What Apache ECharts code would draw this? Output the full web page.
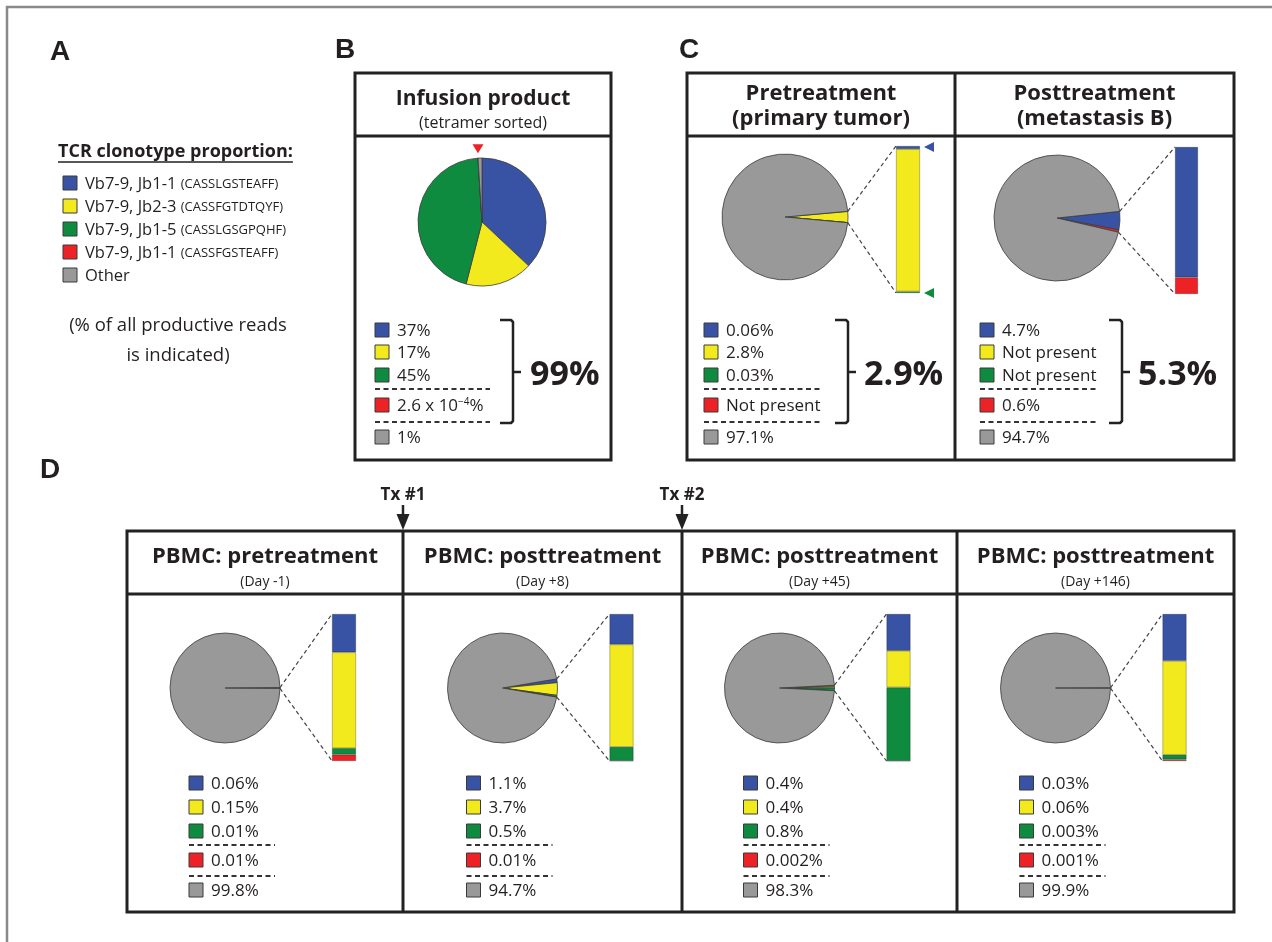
<!DOCTYPE html>
<html><head><meta charset="utf-8">
<script src="https://cdn.jsdelivr.net/npm/echarts@6/dist/echarts.min.js"></script>
<style>html,body{margin:0;padding:0;background:#fff}#c{width:1272px;height:942px}</style>
</head><body><div id="c"></div>
<script>
// ---------------- DATA ----------------
const clonotypeNames = ['Vb7-9, Jb1-1', 'Vb7-9, Jb2-3', 'Vb7-9, Jb1-5', 'Vb7-9, Jb1-1', 'Other'];
const clonotypeCdr3 = ['(CASSLGSTEAFF)', '(CASSFGTDTQYF)', '(CASSLGSGPQHF)', '(CASSFGSTEAFF)', ''];
const legendTitle = 'TCR clonotype proportion:';
const legendNote = ['(% of all productive reads', 'is indicated)'];
const panelLetters = ['A', 'B', 'C', 'D'];

const infusionTitle = ['Infusion product', '(tetramer sorted)'];
const infusionValues = [37, 17, 45, 0.00026, 1];
const infusionLabels = ['37%', '17%', '45%', '2.6 x 10{sup|−4}%', '1%'];
const infusionTotal = '99%';

const tumorTitles = [['Pretreatment', '(primary tumor)'], ['Posttreatment', '(metastasis B)']];
const tumorPreValues = [0.06, 2.8, 0.03, 0, 97.1];
const tumorPreLabels = ['0.06%', '2.8%', '0.03%', 'Not present', '97.1%'];
const tumorPostValues = [4.7, 0, 0, 0.6, 94.7];
const tumorPostLabels = ['4.7%', 'Not present', 'Not present', '0.6%', '94.7%'];
const tumorTotals = ['2.9%', '5.3%'];

const pbmcTitles = ['PBMC: pretreatment', 'PBMC: posttreatment', 'PBMC: posttreatment', 'PBMC: posttreatment'];
const pbmcDays = ['(Day -1)', '(Day +8)', '(Day +45)', '(Day +146)'];
const pbmcDayM1Values = [0.06, 0.15, 0.01, 0.01, 99.8];
const pbmcDay8Values = [1.1, 3.7, 0.5, 0.01, 94.7];
const pbmcDay45Values = [0.4, 0.4, 0.8, 0.002, 98.3];
const pbmcDay146Values = [0.03, 0.06, 0.003, 0.001, 99.9];
const pbmcDayM1Labels = ['0.06%', '0.15%', '0.01%', '0.01%', '99.8%'];
const pbmcDay8Labels = ['1.1%', '3.7%', '0.5%', '0.01%', '94.7%'];
const pbmcDay45Labels = ['0.4%', '0.4%', '0.8%', '0.002%', '98.3%'];
const pbmcDay146Labels = ['0.03%', '0.06%', '0.003%', '0.001%', '99.9%'];
const txLabels = ['Tx #1', 'Tx #2'];

// ---------------- STYLE / LAYOUT ----------------
const colors = ['#3953a4', '#f2ea1c', '#0f8b3f', '#ec2227', '#999999'];
const FONT = '"Open Sans", "DejaVu Sans", sans-serif';
const INK = '#231f20';
const BOX = '#222222';

const els = [];
const series = [];
const grids = [], xAxes = [], yAxes = [];

function txt(x, y, s, font, align, vAlign, rich) {
  const st = { text: s, x: x, y: y, font: font, fill: INK,
    align: align || 'left', verticalAlign: vAlign || 'middle',
    textAlign: align || 'left', textVerticalAlign: vAlign || 'middle' };
  if (rich) st.rich = rich;
  els.push({ type: 'text', silent: true, z: 10, style: st });
}
function line(x1, y1, x2, y2, stroke, lw, dash) {
  const st = { stroke: stroke, lineWidth: lw, lineCap: 'butt' };
  if (dash) st.lineDash = dash;
  els.push({ type: 'line', silent: true, z: 10, shape: { x1: x1, y1: y1, x2: x2, y2: y2 }, style: st });
}
function rect(x, y, w, h, fill, stroke, lw) {
  els.push({ type: 'rect', silent: true, z: 10, shape: { x: x, y: y, width: w, height: h },
    style: { fill: fill, stroke: stroke, lineWidth: lw } });
}
function poly(points, fill) {
  els.push({ type: 'polygon', silent: true, z: 11, shape: { points: points }, style: { fill: fill } });
}
function polyline(points, stroke, lw) {
  els.push({ type: 'polyline', silent: true, z: 10, shape: { points: points },
    style: { stroke: stroke, lineWidth: lw, fill: null, lineJoin: 'round' } });
}
const measureCtx = document.createElement('canvas').getContext('2d');
function textWidth(s, font) { measureCtx.font = font; return measureCtx.measureText(s).width; }

function sum(a) { return a.reduce((p, v) => p + v, 0); }

function addPie(values, cx, cy, r, startAngle) {
  series.push({
    type: 'pie', center: [cx, cy], radius: r, startAngle: startAngle, clockwise: true,
    silent: true, animation: false, label: { show: false }, labelLine: { show: false },
    itemStyle: { borderColor: '#3c3c3c', borderWidth: 0.8 },
    data: values.map((v, i) => ({ value: v, name: clonotypeNames[i] + ' ' + clonotypeCdr3[i], itemStyle: { color: colors[i] } }))
      .filter(d => d.value > 0)
  });
}

function addMiniBar(values, left, top, width, height) {
  const gi = grids.length;
  grids.push({ left: left, top: top, width: width, height: height, containLabel: false });
  xAxes.push({ type: 'category', gridIndex: gi, data: ['c'], show: false, boundaryGap: true });
  yAxes.push({ type: 'value', gridIndex: gi, min: 0, max: sum(values.slice(0, 4)), show: false });
  // stack bottom -> top : red, green, yellow, blue
  [3, 2, 1, 0].forEach(i => {
    series.push({
      type: 'bar', xAxisIndex: gi, yAxisIndex: gi, stack: 'bar' + gi, barWidth: '100%',
      silent: true, animation: false,
      itemStyle: { color: colors[i], borderColor: 'rgba(0,0,0,0.45)', borderWidth: 0.6 },
      data: [values[i] > 0 ? values[i] : '-']
    });
  });
}

// slice-edge points of the clonotype wedge (centred at 3 o'clock + tilt)
function wedgeEdges(values, cx, cy, r, tilt) {
  const half = sum(values.slice(0, 4)) / sum(values) * 180;
  const a1 = (half + tilt) * Math.PI / 180, a2 = (-half + tilt) * Math.PI / 180;
  return [[cx + r * Math.cos(a1), cy - r * Math.sin(a1)], [cx + r * Math.cos(a2), cy - r * Math.sin(a2)]];
}

function legendBlock(x, rows, dashYs, dashLen, labels, fs) {
  const font = fs + 'px ' + FONT;
  rows.forEach((y, i) => {
    rect(x, y - 7, 14, 14, colors[i], '#3a3a3a', 1);
    txt(x + 22, y + 1, labels[i], font, 'left', 'middle',
      { sup: { font: '10px ' + FONT, fill: INK, verticalAlign: 'top', lineHeight: 10 } });
  });
  dashYs.forEach(y => line(x, y, x + dashLen, y, '#333', 2, [5, 3.5]));
}

function bracket(x0, x1, top, bot, mid) {
  polyline([[x0, top], [x1 - 2, top], [x1, top + 2], [x1, bot - 2], [x1 - 2, bot], [x0, bot]], BOX, 2.5);
  line(x1, mid, x1 + 8, mid, BOX, 2.5);
}

// ---------------- FRAME + LETTERS ----------------
rect(7, 7, 1300, 1000, null, '#8a8a8a', 2.5);
const letterFont = 'bold 28px "Liberation Sans", Arial, sans-serif';
txt(50, 52, panelLetters[0], letterFont, 'left', 'middle');
txt(335, 50, panelLetters[1], letterFont, 'left', 'middle');
txt(679, 50, panelLetters[2], letterFont, 'left', 'middle');
txt(40, 470, panelLetters[3], letterFont, 'left', 'middle');

// ---------------- PANEL A (legend) ----------------
const titleFont = 'bold 18px ' + FONT;
txt(58, 152, legendTitle, titleFont, 'left', 'middle');
line(58, 162, 58 + textWidth(legendTitle, titleFont), 162, INK, 1.3);
const aRows = [183, 206, 229, 252, 275];
aRows.forEach((y, i) => {
  rect(63, y - 7, 14, 14, colors[i], '#3a3a3a', 1);
  txt(85, y + 1, '{a|' + clonotypeNames[i] + '}' + (clonotypeCdr3[i] ? ' {b|' + clonotypeCdr3[i] + '}' : ''),
    '16.5px ' + FONT, 'left', 'middle',
    { a: { font: '16.5px ' + FONT, fill: INK }, b: { font: '13px ' + FONT, fill: INK } });
});
txt(178, 326, legendNote[0], '18.5px ' + FONT, 'center', 'middle');
txt(178, 356, legendNote[1], '18.5px ' + FONT, 'center', 'middle');

// ---------------- PANEL B ----------------
const bX0 = 355, bX1 = 611, bTop = 73, bBot = 460, bHead = 136;
rect(bX0, bTop, bX1 - bX0, bBot - bTop, null, BOX, 3);
line(bX0, bHead, bX1, bHead, BOX, 3);
txt((bX0 + bX1) / 2, 99, infusionTitle[0], 'bold 21px ' + FONT, 'center', 'middle');
txt((bX0 + bX1) / 2, 123, infusionTitle[1], '16px ' + FONT, 'center', 'middle');
const bPie = { cx: 482, cy: 222, r: 64 };
addPie(infusionValues, bPie.cx, bPie.cy, bPie.r, 90);
{
  // red marker pointing at the (tiny) 4th clonotype slice
  const frac = sum(infusionValues.slice(0, 3)) / sum(infusionValues);
  const ang = (90 - frac * 360) * Math.PI / 180;
  const tx = bPie.cx + bPie.r * Math.cos(ang), ty = bPie.cy - bPie.r * Math.sin(ang) - 5;
  poly([[tx - 5.5, ty - 9], [tx + 5.5, ty - 9], [tx, ty]], colors[3]);
}
const bcRows = [330, 352, 375, 405, 437];
const bcDash = [389, 422];
legendBlock(375, bcRows, bcDash, 115, infusionLabels, 17);
bracket(500, 513, 320, 423, 372);
txt(530, 375, infusionTotal, 'bold 34px ' + FONT, 'left', 'middle');

// ---------------- PANEL C ----------------
const cX0 = 687, cX1 = 1234, cMid = 955, cTop = 73, cBot = 460, cHead = 136;
rect(cX0, cTop, cX1 - cX0, cBot - cTop, null, BOX, 3);
line(cX0, cHead, cX1, cHead, BOX, 3);
line(cMid, cTop, cMid, cBot, BOX, 3);
const cCenters = [(cX0 + cMid) / 2, (cMid + cX1) / 2];
tumorTitles.forEach((t, i) => {
  txt(cCenters[i], 94, t[0], 'bold 22px ' + FONT, 'center', 'middle');
  txt(cCenters[i], 119, t[1], 'bold 22px ' + FONT, 'center', 'middle');
});
const cPanels = [
  { values: tumorPreValues, labels: tumorPreLabels, total: tumorTotals[0], cx: 785, cy: 217, r: 63, tilt: 0,
    bar: [896, 146, 24, 147], leg: 704, br: [835, 848], tot: 864, dash: 116 },
  { values: tumorPostValues, labels: tumorPostLabels, total: tumorTotals[1], cx: 1057, cy: 218, r: 63, tilt: -3.5,
    bar: [1175, 147, 23, 147], leg: 980, br: [1109, 1122], tot: 1138, dash: 116 }
];
cPanels.forEach(p => {
  const f = sum(p.values.slice(0, 4)) / sum(p.values);
  addPie(p.values, p.cx, p.cy, p.r, f * 180 + p.tilt);
  addMiniBar(p.values, p.bar[0], p.bar[1], p.bar[2], p.bar[3]);
  const e = wedgeEdges(p.values, p.cx, p.cy, p.r, p.tilt);
  line(e[0][0], e[0][1], p.bar[0], p.bar[1], '#444', 1.2, [4, 3]);
  line(e[1][0], e[1][1], p.bar[0], p.bar[1] + p.bar[3], '#444', 1.2, [4, 3]);
  legendBlock(p.leg, bcRows, bcDash, p.dash, p.labels, 17);
  bracket(p.br[0], p.br[1], 320, 423, 372);
  txt(p.tot, 375, p.total, 'bold 34px ' + FONT, 'left', 'middle');
});
{
  // markers for the thin blue (top) and green (bottom) segments of the pretreatment bar
  const b = cPanels[0].bar, xr = b[0] + b[2] + 4;
  poly([[xr, b[1] + 1], [xr + 10, b[1] - 4], [xr + 10, b[1] + 6]], colors[0]);
  poly([[xr, b[1] + b[3]], [xr + 10, b[1] + b[3] - 5], [xr + 10, b[1] + b[3] + 5]], colors[2]);
}

// ---------------- PANEL D ----------------
const dEdges = [127, 403, 682, 957, 1234];
const dTop = 531, dBot = 912, dHead = 594;
rect(dEdges[0], dTop, dEdges[4] - dEdges[0], dBot - dTop, null, BOX, 3);
line(dEdges[0], dHead, dEdges[4], dHead, BOX, 3);
[1, 2, 3].forEach(i => line(dEdges[i], dTop, dEdges[i], dBot, BOX, 3));
[1, 2].forEach((k, j) => {
  const x = dEdges[k];
  txt(x, 495, txLabels[j], 'bold 17px ' + FONT, 'center', 'middle');
  line(x, 505, x, 516, BOX, 2.5);
  poly([[x - 6.5, 514], [x + 6.5, 514], [x, 530]], BOX);
});
const dValues = [pbmcDayM1Values, pbmcDay8Values, pbmcDay45Values, pbmcDay146Values];
const dLabels = [pbmcDayM1Labels, pbmcDay8Labels, pbmcDay45Labels, pbmcDay146Labels];
for (let i = 0; i < 4; i++) {
  const cc = (dEdges[i] + dEdges[i + 1]) / 2;
  txt(cc, 557, pbmcTitles[i], 'bold 22px ' + FONT, 'center', 'middle');
  txt(cc, 582, pbmcDays[i], '14px ' + FONT, 'center', 'middle');
  const cx = cc - 40, cy = 688, r = 55;
  const f = sum(dValues[i].slice(0, 4)) / sum(dValues[i]);
  addPie(dValues[i], cx, cy, r, f * 180);
  const bar = [cc + 67, 614, 24, 147];
  addMiniBar(dValues[i], bar[0], bar[1], bar[2], bar[3]);
  const e = wedgeEdges(dValues[i], cx, cy, r, 0);
  line(e[0][0], e[0][1], bar[0], bar[1], '#444', 1.2, [4, 3]);
  line(e[1][0], e[1][1], bar[0], bar[1] + bar[3], '#444', 1.2, [4, 3]);
  legendBlock(cc - 76, [783, 807, 831, 860, 890], [845, 876], 86, dLabels[i], 17);
}

// ---------------- CHART ----------------
const chart = echarts.init(document.getElementById('c'), null, { renderer: 'canvas' });
chart.setOption({
  animation: false,
  backgroundColor: '#ffffff',
  grid: grids,
  xAxis: xAxes,
  yAxis: yAxes,
  series: series,
  graphic: { elements: els }
});
</script>
</body></html>
